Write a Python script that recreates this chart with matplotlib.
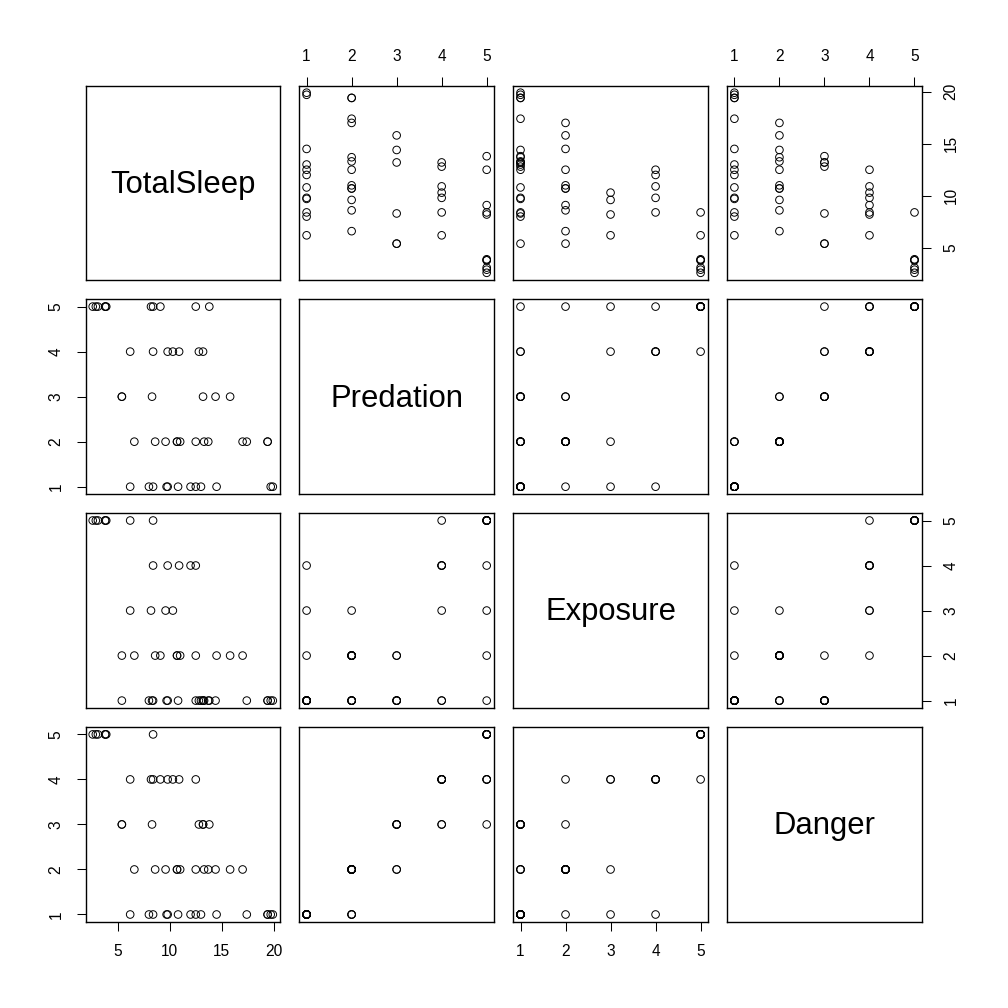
import matplotlib
matplotlib.use("Agg")
import matplotlib.pyplot as plt
import numpy as np

plt.rcParams['font.family'] = ['Liberation Sans', 'DejaVu Sans']

species = ["Arctic fox", "Baboon", "Big brown bat", "Brazilian tapir", "Cat",
           "Chimpanzee", "Chinchilla", "Cow", "Donkey", "E. American mole",
           "Echidna", "European hedgehog", "Galago", "Goat", "Golden hamster",
           "Gorilla", "Gray seal", "Gray wolf", "Ground squirrel", "Guinea pig",
           "Horse", "Jaguar", "Lesser short-tailed shrew", "Little brown bat",
           "Man", "Mouse", "Musk shrew", "N. American opossum",
           "Nine-banded armadillo", "Owl monkey", "Patas monkey", "Phalanger",
           "Pig", "Rabbit", "Raccoon", "Rat", "Red fox", "Rhesus monkey",
           "Rock hyrax (Hetero)", "Rock hyrax (Procavia)", "Roe deer", "Sheep",
           "Slow loris", "Tenrec", "Tree hyrax", "Tree shrew", "Vervet",
           "Water opossum", "African giant pouched rat"]
total_sleep = [12.5, 9.8, 19.7, 6.2, 14.5,
               9.7, 12.5, 3.9, 3.1, 8.4,
               8.6, 10.7, 10.7, 3.8, 14.4,
               12.0, 6.2, 13.0, 13.8, 8.2,
               2.9, 10.8, 9.1, 19.9,
               8.0, 13.2, 12.8, 19.4,
               17.4, 17.0, 10.9, 13.7,
               8.4, 8.4, 12.5, 13.2, 9.8, 9.6,
               6.6, 5.4, 2.6, 3.8,
               11.0, 13.3, 5.4, 15.8, 10.3,
               19.4, 8.3]
predation = [1, 4, 1, 4, 1,
             1, 5, 5, 5, 1,
             2, 2, 2, 5, 3,
             1, 1, 1, 5, 5,
             5, 1, 5, 1,
             1, 4, 4, 2,
             2, 2, 4, 2,
             4, 5, 2, 3, 1, 2,
             2, 3, 5, 5,
             2, 2, 3, 3, 4,
             2, 3]
exposure = [1, 4, 1, 5, 2,
            1, 4, 5, 5, 1,
            2, 2, 2, 5, 1,
            4, 3, 1, 1, 3,
            5, 1, 2, 1,
            1, 1, 1, 1,
            1, 2, 4, 1,
            4, 5, 2, 1, 1, 3,
            2, 2, 5, 5,
            2, 1, 1, 2, 3,
            1, 1]
danger = [1, 4, 1, 4, 1,
          1, 4, 5, 5, 1,
          2, 2, 2, 5, 2,
          1, 1, 1, 3, 4,
          5, 1, 4, 1,
          1, 3, 3, 1,
          1, 2, 4, 2,
          4, 5, 2, 3, 1, 2,
          2, 3, 5, 5,
          2, 2, 3, 2, 4,
          1, 3]

var_names = ["TotalSleep", "Predation", "Exposure", "Danger"]
data = [np.array(total_sleep, float), np.array(predation, float),
        np.array(exposure, float), np.array(danger, float)]
tick_sets = [[5, 10, 15, 20], [1, 2, 3, 4, 5], [1, 2, 3, 4, 5], [1, 2, 3, 4, 5]]

W = 1008.0
fig = plt.figure(figsize=(10.08, 10.08), dpi=100)
fig.patch.set_facecolor('white')

start = 85.5
step = 213.9
size = 194.5
tick_len = 9.3 * 72 / 100
pad = 9.0
fs_tick = 11.2
fs_diag = 22.3

def lims(v):
    lo, hi = np.nanmin(v), np.nanmax(v)
    r = hi - lo
    return lo - 0.04 * r, hi + 0.04 * r

n = 4
for i in range(n):
    for j in range(n):
        x0 = (start + step * j) / W
        y0 = 1 - (start + step * i + size) / W
        ax = fig.add_axes([x0, y0, size / W, size / W])
        for s in ax.spines.values():
            s.set_linewidth(1.0)
            s.set_color('black')
        ax.set_xlim(*lims(data[j]))
        ax.set_ylim(*lims(data[i]))
        if i == j:
            ax.text(0.5, 0.49, var_names[i], transform=ax.transAxes,
                    ha='center', va='center', fontsize=fs_diag, color='black')
        else:
            ax.scatter(data[j], data[i], s=30, facecolors='none',
                       edgecolors='black', linewidths=0.7)
        ax.tick_params(axis='both', which='both', direction='out',
                       length=tick_len, width=0.75, labelsize=fs_tick,
                       pad=pad, colors='black')
        # x axis
        if i == 0 and j % 2 == 1:
            ax.set_xticks(tick_sets[j])
            ax.xaxis.set_ticks_position('top')
            ax.xaxis.set_label_position('top')
        elif i == n - 1 and j % 2 == 0:
            ax.set_xticks(tick_sets[j])
            ax.xaxis.set_ticks_position('bottom')
        else:
            ax.set_xticks([])
        # y axis
        if j == 0 and i % 2 == 1:
            ax.set_yticks(tick_sets[i])
            ax.yaxis.set_ticks_position('left')
            for lab in ax.get_yticklabels():
                lab.set_rotation(90)
                lab.set_va('center')
        elif j == n - 1 and i % 2 == 0:
            ax.set_yticks(tick_sets[i])
            ax.yaxis.set_ticks_position('right')
            for lab in ax.get_yticklabels():
                lab.set_rotation(90)
                lab.set_va('center')
        else:
            ax.set_yticks([])

fig.savefig("out.png", dpi=100, facecolor='white')
